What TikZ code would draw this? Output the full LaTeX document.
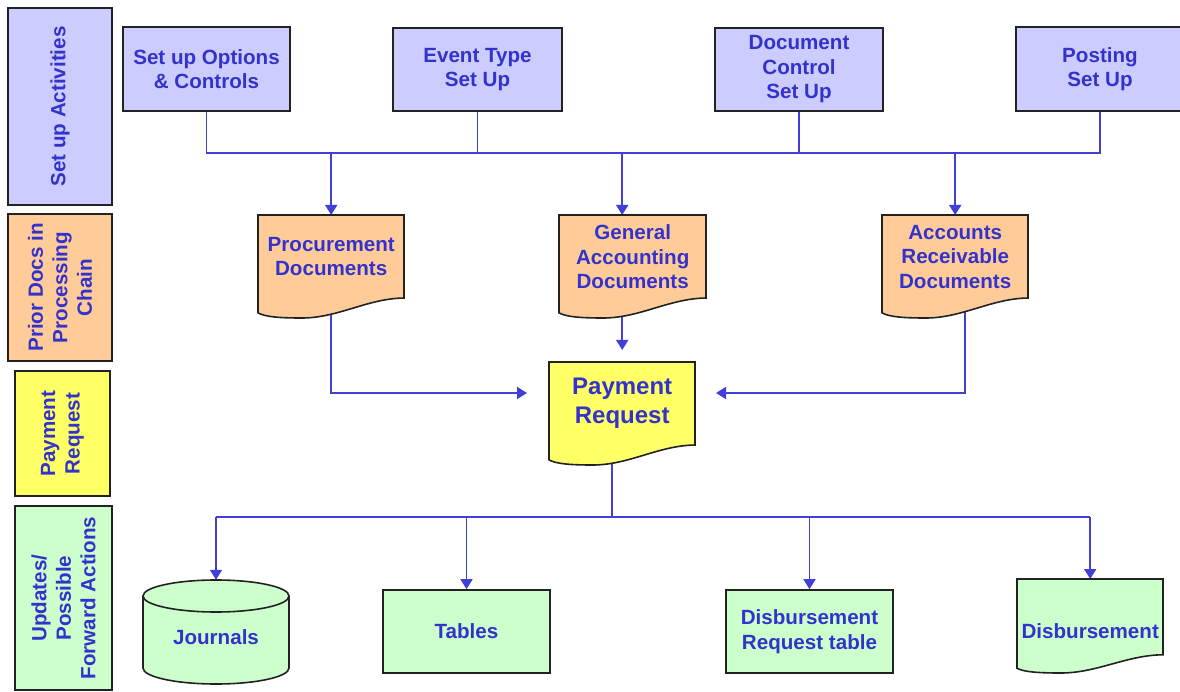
\documentclass[tikz,border=0pt]{standalone}
\usepackage{fontspec}
\setmainfont{Liberation Sans}
\usetikzlibrary{arrows.meta,backgrounds,calc}
\definecolor{lav}{HTML}{CCCCFF}
\definecolor{peach}{HTML}{FFCC99}
\definecolor{yel}{HTML}{FFFF66}
\definecolor{mint}{HTML}{CCFFCC}
\definecolor{tblue}{HTML}{3333CC}
\definecolor{lblue}{HTML}{4040D8}
\definecolor{edge}{HTML}{222222}
\tikzset{
  boxline/.style={draw=edge, line width=1.6pt},
  lbl/.style={text=tblue, font=\bfseries\fontsize{20.6}{24.5}\selectfont, align=center, inner sep=0pt},
  conn/.style={draw=lblue, line width=1.7pt},
  arr/.style={conn, -{Triangle[length=10pt,width=12pt]}},
}
\newcommand\docshape[8]{%
  \begin{scope}[shift={(#1,#2)}]
    \draw[boxline, fill=#5] (0,0) -- (#3,0) -- (#3,0.806*#4)
      .. controls (0.75*#3,0.81*#4) and (0.55*#3,#4) .. (0.3*#3,#4)
      .. controls (0.15*#3,#4) and (0.05*#3,0.99*#4) .. (0,0.95*#4) -- cycle;
  \end{scope}
  \node[anchor=north west, minimum width=#3, minimum height={0.806*#4}, inner sep=0pt] (#6) at (#1,#2) {};
  \node[lbl, #8] (#6-t) at (#6.center) {#7};
}
\begin{document}
\begin{tikzpicture}[x=1pt,y=-1pt]
\useasboundingbox (0,0) rectangle (1180,692);
\clip (0,0) rectangle (1180,692);

% left column
\node[boxline, fill=lav, minimum width=104, minimum height=197] (lab1) at (60,106.5) {};
\node[lbl, rotate=90] (lab1-t) at (lab1.center) {Set up Activities};
\node[boxline, fill=peach, minimum width=104, minimum height=147] (lab2) at (60,287.5) {};
\node[lbl, rotate=90] (lab2-t) at (lab2.center) {Prior Docs in\\Processing\\Chain};
\node[boxline, fill=yel, minimum width=95, minimum height=125] (lab3) at (62.5,433.5) {};
\node[lbl, rotate=90] (lab3-t) at (lab3.center) {Payment\\Request};
\node[boxline, fill=mint, minimum width=97, minimum height=184] (lab4) at (63.5,598) {};
\node[lbl, rotate=90] (lab4-t) at (lab4.center) {Updates/\\Possible\\Forward Actions};

% top row
\node[boxline, fill=lav, lbl, minimum width=167, minimum height=84] (opt) at (206.5,69) {Set up Options\\\& Controls};
\node[boxline, fill=lav, lbl, minimum width=169, minimum height=83] (ev) at (477.5,69.5) {Event Type\\Set Up};
\node[boxline, fill=lav, lbl, minimum width=168, minimum height=83] (dc) at (799,69.5) {Document\\Control\\Set Up};
\node[boxline, fill=lav, lbl, minimum width=168, minimum height=84] (post) at (1100,69) {Posting\\Set Up};

% documents
\docshape{258}{215}{146}{103}{peach}{proc}{Procurement\\Documents}{}
\docshape{559}{215}{147}{103}{peach}{ga}{General\\Accounting\\Documents}{}
\docshape{882}{215}{146}{103}{peach}{ar}{Accounts\\Receivable\\Documents}{}
\docshape{549}{362}{146}{103}{yel}{pay}{Payment\\Request}{font=\bfseries\fontsize{24}{29}\selectfont}
\docshape{1017}{579}{146}{94}{mint}{dis}{Disbursement}{yshift=-14pt}

% bottom row
\draw[boxline, fill=mint] (143,596) -- (143,668)
  arc[start angle=180, end angle=360, x radius=73pt, y radius=16pt] -- (289,596)
  arc[start angle=0, end angle=180, x radius=73pt, y radius=16pt] -- cycle;
\draw[boxline] (143,596) arc[start angle=180, end angle=360, x radius=73pt, y radius=16pt];
\node[minimum width=146, minimum height=104, inner sep=0pt] (jour) at (216,632) {};
\node[lbl] (jour-t) at (216,637) {Journals};
\node[boxline, fill=mint, lbl, minimum width=167, minimum height=83] (tab) at (466.5,631.5) {Tables};
\node[boxline, fill=mint, lbl, minimum width=167, minimum height=83] (drt) at (809.5,631.5) {Disbursement\\Request table};

% connectors
\coordinate (busT) at (0,153);
\coordinate (busB) at (0,517);
\coordinate (payL) at (527,393);
\coordinate (payR) at (716,393);
\begin{scope}[on background layer]
  \draw[conn] (opt.south) |- (post.south |- busT) -- (post.south);
  \draw[conn] (ev.south) -- (ev.south |- busT);
  \draw[conn] (dc.south) -- (dc.south |- busT);
  \draw[arr] (proc.north |- busT) -- (proc.north);
  \draw[arr] (pay.north |- busT) -- (pay.north |- ga.north);
  \draw[arr] (ar.north |- busT) -- (ar.north);
  \draw[arr] (proc.south) |- (payL);
  \draw[arr] ([xshift=10pt]ar.south) |- (payR);
  \draw[arr] (pay.north |- ga.south) -- ([yshift=12pt]pay.north);
  \draw[conn] ([xshift=-10pt]pay.south) -- ([xshift=-10pt]pay.south |- busB);
  \draw[conn] (jour.north |- busB) -- (dis.north |- busB);
  \draw[arr] (jour.north |- busB) -- (jour.north);
  \draw[arr] (tab.north |- busB) -- (tab.north);
  \draw[arr] (drt.north |- busB) -- (drt.north);
  \draw[arr] (dis.north |- busB) -- (dis.north);
\end{scope}
\end{tikzpicture}
\end{document}
